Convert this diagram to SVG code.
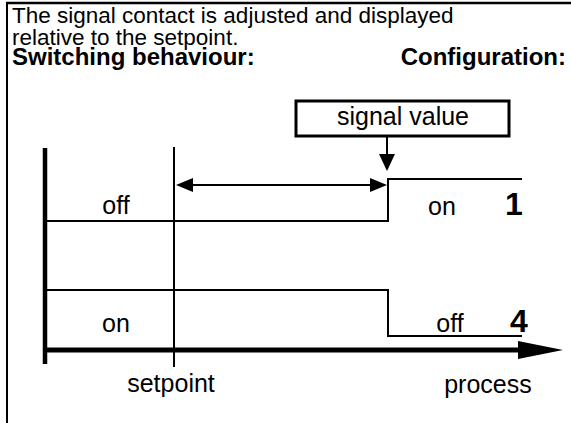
<svg xmlns="http://www.w3.org/2000/svg" width="571" height="423" viewBox="0 0 571 423">
<defs>
<style>
.t{font-family:"Liberation Sans",Arial,sans-serif;font-size:25px;fill:#000}
.h{font-size:22.5px}
.b{font-weight:bold;font-size:24px}
.n{font-weight:bold;font-size:32px}
.ln{stroke:#000;fill:none}
</style>
</defs>
<rect width="571" height="423" fill="#fff"/>
<g id="frame">
<line class="ln" x1="7" y1="423" x2="7" y2="3" stroke-width="2"/>
<line class="ln" x1="6" y1="3" x2="571" y2="3" stroke-width="2.5"/>
</g>
<g id="header">
<text class="t h" x="12" y="23">The signal contact is adjusted and displayed</text>
<text class="t h" x="12" y="45">relative to the setpoint.</text>
<text class="t b" x="12" y="65">Switching behaviour:</text>
<text class="t b" x="566" y="65" text-anchor="end">Configuration:</text>
</g>
<g id="axes">
<line class="ln" x1="45" y1="148" x2="45" y2="364" stroke-width="4.5"/>
<line class="ln" x1="43" y1="350" x2="520" y2="350" stroke-width="5"/>
<polygon points="518,341 563,350 518,359" fill="#000"/>
<line class="ln" x1="174" y1="147" x2="174" y2="367" stroke-width="2"/>
<text class="t" x="171" y="392" text-anchor="middle">setpoint</text>
<text class="t" x="488" y="393" text-anchor="middle">process</text>
</g>
<g id="config1">
<path class="ln" d="M47,221 H388 V179 H522" stroke-width="2"/>
<text class="t" x="116" y="214" text-anchor="middle">off</text>
<text class="t" x="442" y="215" text-anchor="middle">on</text>
<text class="t n" x="505" y="215">1</text>
</g>
<g id="config4">
<path class="ln" d="M47,290 H388 V336 H522" stroke-width="2"/>
<text class="t" x="116" y="332" text-anchor="middle">on</text>
<text class="t" x="450" y="332" text-anchor="middle">off</text>
<text class="t n" x="510" y="332">4</text>
</g>
<g id="signal">
<rect class="ln" x="296" y="101" width="213" height="35" stroke-width="3"/>
<text class="t" x="403" y="125" text-anchor="middle">signal value</text>
</g>
<g id="connectors">
<line class="ln" x1="387" y1="136" x2="387" y2="155" stroke-width="2"/>
<polygon points="379,154 395,154 387,171" fill="#000"/>
<line class="ln" x1="190" y1="185" x2="372" y2="185" stroke-width="2"/>
<polygon points="176,185 193,178 193,192" fill="#000"/>
<polygon points="387,185 370,178 370,192" fill="#000"/>
</g>
</svg>
